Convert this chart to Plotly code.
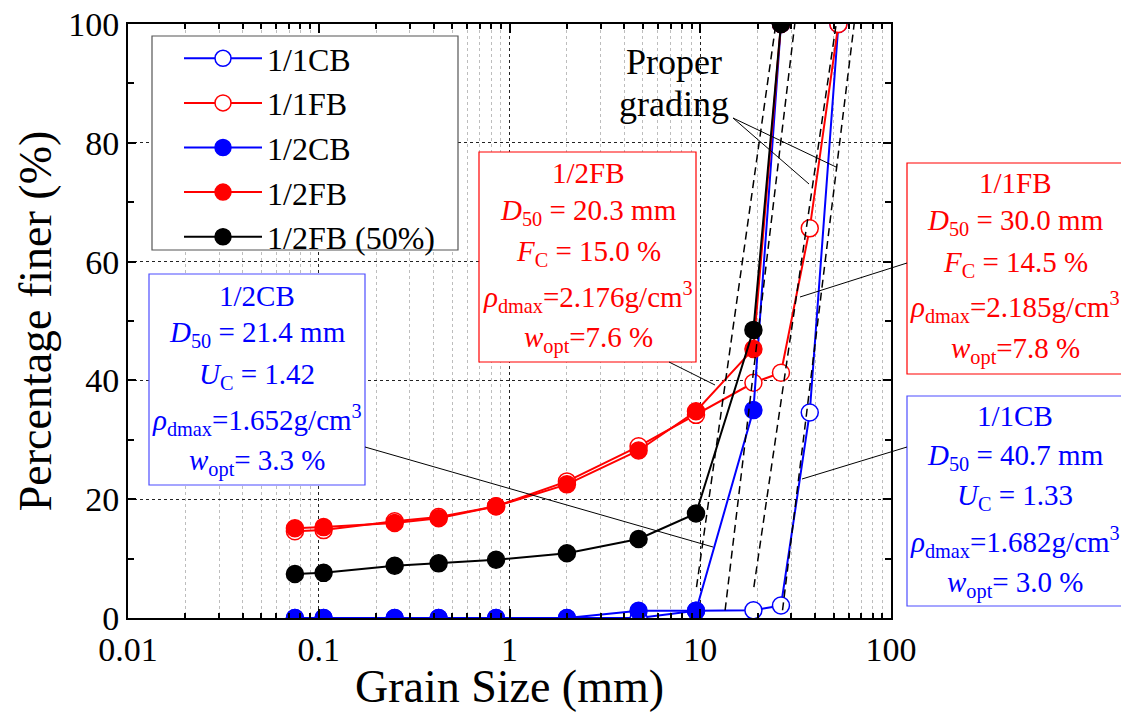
import plotly.graph_objects as go

# ---------------- data ----------------
sieve = [0.075, 0.106, 0.25, 0.425, 0.85, 2.0, 4.75, 9.5, 19.0, 26.5, 37.5, 53.0]
sieve_half = [0.075, 0.106, 0.25, 0.425, 0.85, 2.0, 4.75, 9.5, 19.0, 26.5]

cb11_y = [0, 0, 0, 0, 0, 0, 0, 1.2, 1.3, 2.1, 34.6, 100]
fb11_y = [14.6, 14.8, 16.3, 17.0, 18.8, 23.0, 28.9, 34.2, 39.6, 41.3, 65.6, 100]
cb12_y = [0, 0, 0, 0, 0, 0, 1.2, 1.2, 35.0, 100]
fb12_y = [15.1, 15.3, 16.0, 16.8, 18.8, 22.5, 28.2, 34.8, 45.3, 100]
fb12h_y = [7.4, 7.6, 8.8, 9.2, 9.8, 10.9, 13.3, 17.6, 48.5, 100]

series_names = ["1/1CB", "1/1FB", "1/2CB", "1/2FB", "1/2FB (50%)"]

# proper grading boundary lines (grain size, percent finer)
gradeA_x, gradeA_y = [9.56, 24.9], [5.2, 100]
gradeB_x, gradeB_y = [13.5, 31.3], [1.3, 100]
gradeC_x, gradeC_y = [19.1, 51.6], [5.2, 100]
gradeD_x, gradeD_y = [27.0, 64.1], [1.3, 100]

x_tickvals = [0.01, 0.1, 1, 10, 100]
x_ticktext = ["0.01", "0.1", "1", "10", "100"]
y_tickvals = [0, 20, 40, 60, 80, 100]

BLUE = "#0000FF"
RED = "#FF0000"
FONT = "Liberation Serif, Times New Roman, serif"

# ---------------- layout helpers (pixel -> paper) ----------------
W, H = 1121, 712
PL, PR, PT, PB = 128, 891, 24, 618


def xp(px):
    return (px - PL) / (PR - PL)


def yp(py):
    return (PB - py) / (PB - PT)


fig = go.Figure()

styles = [
    (sieve, cb11_y, BLUE, "white"),
    (sieve, fb11_y, RED, "white"),
    (sieve_half, cb12_y, BLUE, BLUE),
    (sieve_half, fb12_y, RED, RED),
    (sieve_half, fb12h_y, "black", "black"),
]
for (xs, ys, col, fill), name in zip(styles, series_names):
    fig.add_trace(go.Scatter(
        x=xs, y=ys, name=name, mode="lines+markers",
        line=dict(color=col, width=2),
        marker=dict(symbol="circle", size=17, color=fill,
                    line=dict(color=col, width=1.5)),
    ))

for gx, gy in [(gradeA_x, gradeA_y), (gradeB_x, gradeB_y),
               (gradeC_x, gradeC_y), (gradeD_x, gradeD_y)]:
    fig.add_trace(go.Scatter(
        x=gx, y=gy, mode="lines", showlegend=False, hoverinfo="skip",
        line=dict(color="black", width=1.5, dash="8px,5px"),
    ))

shapes = []
annotations = []

# legend frame (white)
shapes.append(dict(type="rect", xref="paper", yref="paper", layer="above",
                   x0=xp(152), x1=xp(458), y0=yp(250), y1=yp(36),
                   fillcolor="white", line=dict(color="#555555", width=1.2)))


def add_box(x0, x1, y0, y1, color, border, cx, lines, connector):
    shapes.append(dict(type="rect", xref="paper", yref="paper", layer="above",
                       x0=xp(x0), x1=xp(x1), y0=yp(y1), y1=yp(y0),
                       fillcolor="white", line=dict(color=border, width=1.2)))
    (ax0, ay0), (ax1, ay1) = connector
    shapes.append(dict(type="line", xref="paper", yref="paper", layer="above",
                       x0=xp(ax0), y0=yp(ay0), x1=xp(ax1), y1=yp(ay1),
                       line=dict(color="black", width=1)))
    for txt, cy in lines:
        annotations.append(dict(xref="paper", yref="paper", x=xp(cx), y=yp(cy),
                                xanchor="center", yanchor="middle", showarrow=False,
                                text=txt, font=dict(family=FONT, size=29, color=color)))


add_box(479, 696, 152, 362, RED, RED, 588, [
    ("1/2FB", 173),
    ("<i>D</i><sub>50</sub> = 20.3 mm", 212),
    ("<i>F</i><sub>C</sub> = 15.0 %", 253),
    ("<i>ρ</i><sub>dmax</sub>=2.176g/cm<sup>3</sup>", 297),
    ("<i>w</i><sub>opt</sub>=7.6 %", 339),
], [(669, 362), (715, 385)])

add_box(907, 1126, 163, 374, RED, RED, 1015, [
    ("1/1FB", 183),
    ("<i>D</i><sub>50</sub> = 30.0 mm", 222),
    ("<i>F</i><sub>C</sub> = 14.5 %", 264),
    ("<i>ρ</i><sub>dmax</sub>=2.185g/cm<sup>3</sup>", 307),
    ("<i>w</i><sub>opt</sub>=7.8 %", 350),
], [(907, 263), (800, 297)])

add_box(149, 365, 274, 485, BLUE, "#4d4dff", 257, [
    ("1/2CB", 296),
    ("<i>D</i><sub>50</sub> = 21.4 mm", 334),
    ("<i>U</i><sub>C</sub> = 1.42", 376),
    ("<i>ρ</i><sub>dmax</sub>=1.652g/cm<sup>3</sup>", 420),
    ("<i>w</i><sub>opt</sub>= 3.3 %", 462),
], [(365, 447), (713, 547)])

add_box(907, 1126, 396, 606, BLUE, "#4d4dff", 1015, [
    ("1/1CB", 416),
    ("<i>D</i><sub>50</sub> = 40.7 mm", 457),
    ("<i>U</i><sub>C</sub> = 1.33", 497),
    ("<i>ρ</i><sub>dmax</sub>=1.682g/cm<sup>3</sup>", 542),
    ("<i>w</i><sub>opt</sub>= 3.0 %", 584),
], [(907, 447), (802, 479)])

# Proper grading label + pointer lines
annotations.append(dict(xref="paper", yref="paper", x=xp(674), y=yp(62),
                        xanchor="center", yanchor="middle", showarrow=False,
                        text="Proper", font=dict(family=FONT, size=36, color="black")))
annotations.append(dict(xref="paper", yref="paper", x=xp(674), y=yp(104),
                        xanchor="center", yanchor="middle", showarrow=False,
                        text="grading", font=dict(family=FONT, size=36, color="black")))
for ex, ey in [(836, 167), (809, 184)]:
    shapes.append(dict(type="line", xref="paper", yref="paper", layer="above",
                       x0=xp(733), y0=yp(118), x1=xp(ex), y1=yp(ey),
                       line=dict(color="black", width=1)))

fig.update_layout(
    width=W, height=H,
    margin=dict(l=PL, r=W - PR, t=PT, b=H - PB, autoexpand=False),
    paper_bgcolor="white", plot_bgcolor="white",
    font=dict(family=FONT, color="black"),
    shapes=shapes, annotations=annotations,
    showlegend=True,
    legend=dict(x=xp(179), y=yp(31), xanchor="left", yanchor="top",
                bgcolor="rgba(0,0,0,0)", borderwidth=0,
                font=dict(family=FONT, size=32), itemwidth=78,
                tracegroupgap=0),
)

fig.update_xaxes(
    type="log", range=[-2, 2],
    showline=True, linewidth=2, linecolor="black", mirror="ticks",
    ticks="inside", ticklen=9, tickwidth=2, tickcolor="black",
    tickvals=x_tickvals, ticktext=x_ticktext,
    tickfont=dict(family=FONT, size=34),
    showgrid=True, gridcolor="#222222", gridwidth=1, griddash="3px,3px",
    minor=dict(dtick="D1", ticks="inside", ticklen=5, tickwidth=1.5, tickcolor="black",
               showgrid=True, gridcolor="#bdbdbd", gridwidth=1, griddash="3px,3px"),
    title=dict(text="Grain Size (mm)", font=dict(family=FONT, size=46), standoff=1),
    zeroline=False,
)
fig.update_yaxes(
    range=[0, 100],
    showline=True, linewidth=2, linecolor="black", mirror="ticks",
    ticks="inside", ticklen=8, tickwidth=2, tickcolor="black",
    tickvals=y_tickvals,
    tickfont=dict(family=FONT, size=34),
    showgrid=True, gridcolor="#222222", gridwidth=1, griddash="3px,3px",
    minor=dict(dtick=10, ticks="inside", ticklen=6, tickwidth=1.5, tickcolor="black",
               showgrid=False),
    title=dict(text="Percentage finer (%)", font=dict(family=FONT, size=46), standoff=2),
    zeroline=False,
)

fig.write_html("out.html")
